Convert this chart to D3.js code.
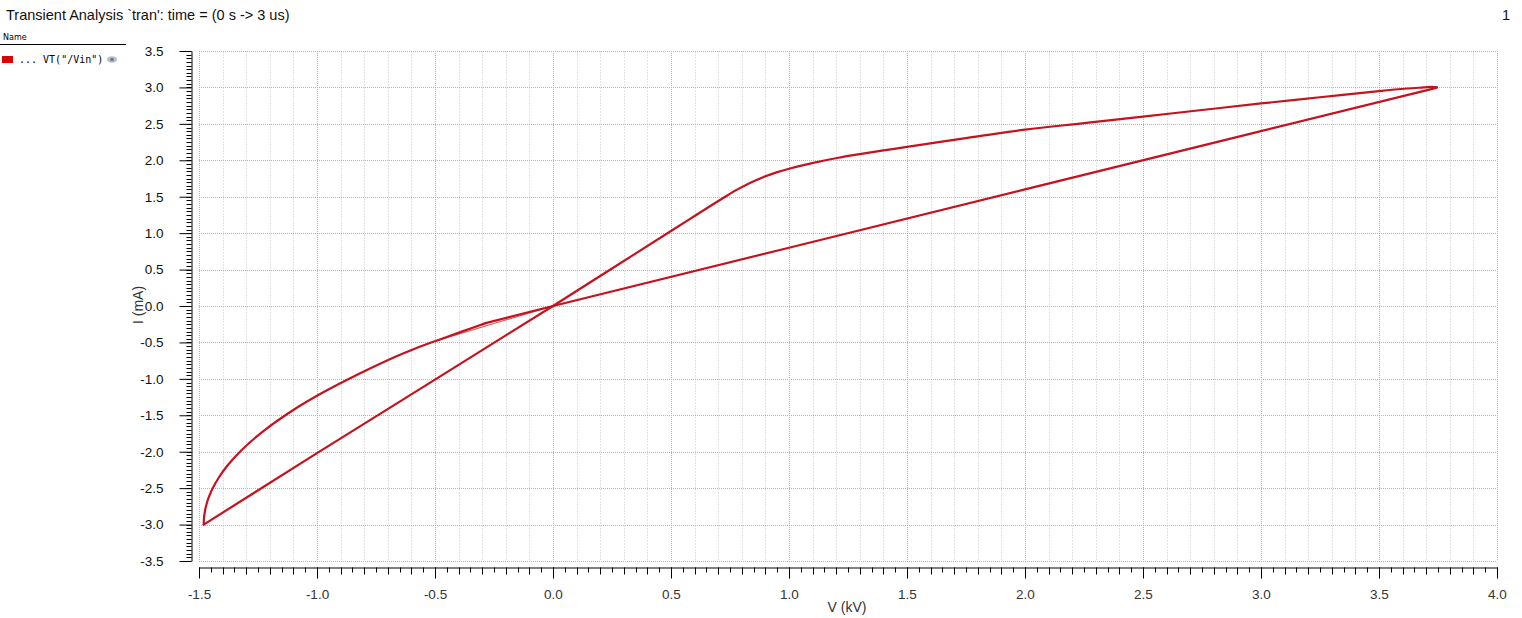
<!DOCTYPE html>
<html>
<head>
<meta charset="utf-8">
<script src="https://cdn.jsdelivr.net/npm/d3@7/dist/d3.min.js"></script>
<style>
  html, body { margin: 0; padding: 0; background: #fff; }
  svg { display: block; }
</style>
</head>
<body>
<svg id="chart" width="1522" height="618"></svg>
<script>
// ---- Data (V in kV, I in mA) ----
const title = "Transient Analysis `tran': time = (0 s -> 3 us)";
const legendName = "VT(\"/Vin\")";
const xTickValues = [-1.5, -1.0, -0.5, 0.0, 0.5, 1.0, 1.5, 2.0, 2.5, 3.0, 3.5, 4.0];
const yTickValues = [-3.5, -3.0, -2.5, -2.0, -1.5, -1.0, -0.5, 0.0, 0.5, 1.0, 1.5, 2.0, 2.5, 3.0, 3.5];
const xLabel = "V (kV)";
const yLabel = "I (mA)";

// branch 1: origin -> positive peak (rising, saturating)
const riseV = [0.0, 0.25, 0.5, 0.6, 0.68, 0.74, 0.78, 0.82, 0.86, 0.9, 0.95, 1.004, 1.103, 1.209, 1.3, 1.4,
  1.5, 1.75, 2.0, 2.25, 2.5, 2.75, 3.0, 3.25, 3.5, 3.62, 3.69, 3.725, 3.745];
const riseI = [0.0, 0.515, 1.03, 1.235, 1.40, 1.52, 1.597, 1.665, 1.725, 1.78, 1.838, 1.888, 1.965, 2.035, 2.085, 2.135,
  2.185, 2.305, 2.42, 2.51, 2.60, 2.69, 2.78, 2.865, 2.95, 2.985, 3.0, 3.008, 3.0];
// branch 2: positive peak -> back through origin (straight)
const fallV = [3.745, 3.73, 3.70, 3.0, 2.0, 1.0, 0.0, -0.285];
const fallI = [3.0, 2.983, 2.96, 2.40, 1.60, 0.80, 0.0, -0.235];
// branch 3: curved part down to the negative peak
const negV = [-0.285, -0.387, -0.5, -0.599, -0.675, -0.8233, -0.9716, -1.0987, -1.2258, -1.319,
  -1.3784, -1.4165, -1.442, -1.4589, -1.4695, -1.4758, -1.4788, -1.48];
const negI = [-0.235, -0.352, -0.483, -0.603, -0.706, -0.933, -1.181, -1.424, -1.714, -1.976,
  -2.186, -2.357, -2.502, -2.628, -2.738, -2.834, -2.91, -3.0];
// branch 4: negative peak -> origin (straight)
const backV = [-1.48, -1.0, -0.5, 0.0];
const backI = [-3.0, -2.02, -1.01, 0.0];
// faint first-cycle segment near the origin
const startV = [-0.5, -0.25, 0.0];
const startI = [-0.483, -0.24, 0.0];

// minor ticks / grid
const xMinorGrid = d3.range(-15, 41, 1).map(d => d / 10);
const xMinorTicks = d3.range(-30, 81, 1).map(d => d / 20);
const yMinorTicks = d3.range(-70, 71, 1).map(d => d / 20);

// ---- Drawing ----
const svg = d3.select("#chart");
svg.append("rect").attr("width", 1522).attr("height", 618).attr("fill", "#fff");

const x = d3.scaleLinear().domain([-1.5, 4.0]).range([199, 1497]);
const y = d3.scaleLinear().domain([-3.5, 3.5]).range([561, 51]);

const fmt = d => d.toFixed(1);

// grid
const grid = svg.append("g");
grid.selectAll("line.vminor")
  .data(xMinorGrid.filter(v => Math.abs(v * 2 - Math.round(v * 2)) > 1e-6))
  .join("line")
  .attr("x1", d => Math.round(x(d)) + 0.5).attr("x2", d => Math.round(x(d)) + 0.5)
  .attr("y1", y(3.5)).attr("y2", y(-3.5))
  .attr("stroke", "#e3e3e3").attr("stroke-width", 1).attr("stroke-dasharray", "2,1");
grid.selectAll("line.vmajor")
  .data(xTickValues)
  .join("line")
  .attr("x1", d => Math.round(x(d)) + 0.5).attr("x2", d => Math.round(x(d)) + 0.5)
  .attr("y1", y(3.5)).attr("y2", y(-3.5))
  .attr("stroke", "#b5b5b5").attr("stroke-width", 1).attr("stroke-dasharray", "1,1");
grid.selectAll("line.hmajor")
  .data(yTickValues)
  .join("line")
  .attr("x1", x(-1.5)).attr("x2", x(4.0))
  .attr("y1", d => Math.round(y(d)) + 0.5).attr("y2", d => Math.round(y(d)) + 0.5)
  .attr("stroke", "#b5b5b5").attr("stroke-width", 1).attr("stroke-dasharray", "1,1");

// y axis
const yAxisX = 191.5;
const yAxis = d3.axisLeft(y).tickValues(yTickValues).tickFormat(fmt)
  .tickSize(12).tickSizeOuter(0).tickPadding(16);
const gy = svg.append("g").attr("transform", `translate(${yAxisX},0)`).call(yAxis);
gy.selectAll("text").attr("font-family", "Liberation Sans, Arial, sans-serif")
  .attr("font-size", 13.5).attr("fill", "#111");
gy.selectAll("line, path").attr("stroke", "#000");
gy.append("g").selectAll("line")
  .data(yMinorTicks)
  .join("line")
  .attr("x1", -5).attr("x2", 0)
  .attr("y1", d => Math.round(y(d)) + 0.5).attr("y2", d => Math.round(y(d)) + 0.5)
  .attr("stroke", "#000");

// x axis
const xAxisY = 567.5;
const xAxis = d3.axisBottom(x).tickValues(xTickValues).tickFormat(fmt)
  .tickSize(11).tickSizeOuter(0).tickPadding(11);
const gx = svg.append("g").attr("transform", `translate(0,${xAxisY})`).call(xAxis);
gx.selectAll("text").attr("font-family", "Liberation Sans, Arial, sans-serif")
  .attr("font-size", 13.5).attr("fill", "#333");
gx.selectAll("line, path").attr("stroke", "#000");
gx.append("g").selectAll("line")
  .data(xMinorTicks)
  .join("line")
  .attr("x1", d => Math.round(x(d)) + 0.5).attr("x2", d => Math.round(x(d)) + 0.5)
  .attr("y1", 0)
  .attr("y2", d => (Math.abs(d * 10 - Math.round(d * 10)) < 1e-6) ? 7 : 5)
  .attr("stroke", "#000");

// axis titles
svg.append("text").attr("x", 847).attr("y", 612).attr("text-anchor", "middle")
  .attr("font-family", "Liberation Sans, Arial, sans-serif").attr("font-size", 14)
  .attr("fill", "#333").text(xLabel);
svg.append("text").attr("transform", "translate(143,305) rotate(-90)")
  .attr("text-anchor", "middle")
  .attr("font-family", "Liberation Sans, Arial, sans-serif").attr("font-size", 14)
  .attr("fill", "#333").text(yLabel);

// traces
const zip = (a, b) => a.map((v, i) => [v, b[i]]);
const straight = d3.line().x(d => x(d[0])).y(d => y(d[1]));
const smooth = d3.line().x(d => x(d[0])).y(d => y(d[1])).curve(d3.curveCatmullRom.alpha(0.5));

svg.append("path").attr("d", straight(zip(startV, startI)))
  .attr("fill", "none").attr("stroke", "#d9575d").attr("stroke-width", 1.2);

const traceColor = "#c4121e";
const branches = [
  [smooth, zip(riseV, riseI)],
  [straight, zip(fallV, fallI)],
  [smooth, zip(negV, negI)],
  [straight, zip(backV, backI)]
];
svg.append("g").selectAll("path")
  .data(branches)
  .join("path")
  .attr("d", d => d[0](d[1]))
  .attr("fill", "none")
  .attr("stroke", traceColor).attr("stroke-width", 2.2)
  .attr("stroke-linejoin", "round").attr("stroke-linecap", "round");

// title and page number
svg.append("text").attr("x", 6).attr("y", 20)
  .attr("font-family", "Liberation Sans, Arial, sans-serif").attr("font-size", 14.5)
  .attr("fill", "#111").text(title);
svg.append("text").attr("x", 1510).attr("y", 20).attr("text-anchor", "end")
  .attr("font-family", "Liberation Sans, Arial, sans-serif").attr("font-size", 14.5)
  .attr("fill", "#111").text("1");

// legend
svg.append("text").attr("x", 3).attr("y", 40)
  .attr("font-family", "DejaVu Sans, sans-serif").attr("font-size", 8)
  .attr("fill", "#000").text("Name");
svg.append("line").attr("x1", 0).attr("x2", 126).attr("y1", 44.5).attr("y2", 44.5)
  .attr("stroke", "#000");
svg.append("rect").attr("x", 2).attr("y", 56).attr("width", 11).attr("height", 7)
  .attr("fill", "#dd0000");
svg.append("text").attr("x", 19).attr("y", 63)
  .attr("font-family", "DejaVu Sans Mono, monospace").attr("font-size", 10)
  .attr("fill", "#000").text("... " + legendName);
svg.append("ellipse").attr("cx", 112).attr("cy", 59.5).attr("rx", 5).attr("ry", 3.2)
  .attr("fill", "#b7bdc9");
svg.append("circle").attr("cx", 112).attr("cy", 59.5).attr("r", 1.8).attr("fill", "#6f7788");
</script>
</body>
</html>
